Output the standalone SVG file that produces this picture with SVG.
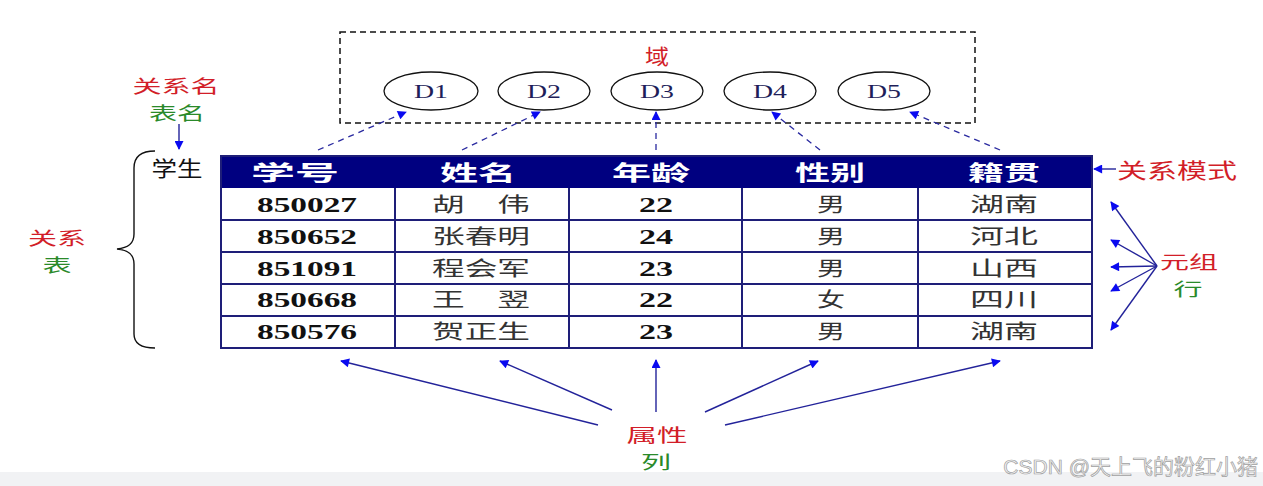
<svg xmlns="http://www.w3.org/2000/svg" width="1263" height="486" viewBox="0 0 1263 486">
<defs>
<marker id="ah" viewBox="0 0 10 10" refX="9" refY="5" markerWidth="11" markerHeight="9" markerUnits="userSpaceOnUse" orient="auto">
<path d="M0,0 L10,5 L0,10 z" fill="#0a0af0"/>
</marker>
<style>
.lbl{font-family:"Noto Sans CJK SC","Noto Sans",sans-serif;font-size:21px;text-anchor:middle}
.stk{font-size:18px}
.red{fill:#d21e28}
.grn{fill:#2a8a2a}
.hd{font-family:"Noto Sans CJK SC",sans-serif;font-size:21px;font-weight:700;fill:#ffffff;text-anchor:middle}
.num{font-family:"Liberation Serif",serif;font-size:22px;font-weight:700;fill:#111;text-anchor:middle}
.cn{font-family:"Noto Sans CJK SC",sans-serif;font-size:20px;fill:#333;text-anchor:middle}
.dl{font-family:"Liberation Serif",serif;font-size:18px;fill:#1e1e5a;text-anchor:middle}
.ell{fill:#fff;stroke:#111;stroke-width:1.3}
.dash{stroke:#2a2aa0;stroke-width:1.3;stroke-dasharray:6 5;fill:none}
.arr{stroke:#23239a;stroke-width:1.4;fill:none}
.grid{stroke:#1e1e78;stroke-width:2;fill:none}
</style>
</defs>
<rect width="1263" height="486" fill="#ffffff"/>
<rect x="0" y="472" width="1263" height="14" fill="#f1f2f4"/>

<g id="domain">
<rect x="340" y="32" width="635" height="91" fill="none" stroke="#111" stroke-width="1.5" stroke-dasharray="6 4"/>
<text class="lbl red" x="657" y="64" textLength="24" lengthAdjust="spacingAndGlyphs">域</text>
</g>
<g id="D1"><ellipse class="ell" cx="431" cy="91" rx="47" ry="19"/><text class="dl" x="431" y="98" textLength="34" lengthAdjust="spacingAndGlyphs">D1</text></g>
<g id="D2"><ellipse class="ell" cx="544" cy="91" rx="46" ry="19"/><text class="dl" x="544" y="98" textLength="34" lengthAdjust="spacingAndGlyphs">D2</text></g>
<g id="D3"><ellipse class="ell" cx="657" cy="91" rx="46" ry="19"/><text class="dl" x="657" y="98" textLength="34" lengthAdjust="spacingAndGlyphs">D3</text></g>
<g id="D4"><ellipse class="ell" cx="770" cy="91" rx="46" ry="19"/><text class="dl" x="770" y="98" textLength="34" lengthAdjust="spacingAndGlyphs">D4</text></g>
<g id="D5"><ellipse class="ell" cx="884" cy="91" rx="46" ry="19"/><text class="dl" x="884" y="98" textLength="34" lengthAdjust="spacingAndGlyphs">D5</text></g>

<g id="relname">
<text class="lbl stk red" x="176" y="93" textLength="87" lengthAdjust="spacingAndGlyphs">关系名</text>
<text class="lbl stk grn" x="177" y="120" textLength="56" lengthAdjust="spacingAndGlyphs">表名</text>
</g>
<g id="tablename">
<text class="lbl" x="177" y="176" fill="#111" font-size="18" textLength="51" lengthAdjust="spacingAndGlyphs">学生</text>
</g>
<g id="relation">
<path d="M155,151 C142,151 134,156 134,168 L134,234 C134,244 128,248 117,249 C128,250 134,254 134,264 L134,334 C134,344 142,348 155,348" fill="none" stroke="#111" stroke-width="1.4"/>
<text class="lbl stk red" x="57" y="245" textLength="58" lengthAdjust="spacingAndGlyphs">关系</text>
<text class="lbl stk grn" x="57" y="272" textLength="29" lengthAdjust="spacingAndGlyphs">表</text>
</g>
<g id="schema">
<text class="lbl red" x="1177" y="178" textLength="120" lengthAdjust="spacingAndGlyphs">关系模式</text>
</g>
<g id="tuple">
<text class="lbl stk red" x="1189" y="269" textLength="58" lengthAdjust="spacingAndGlyphs">元组</text>
<text class="lbl stk grn" x="1188" y="296" textLength="29" lengthAdjust="spacingAndGlyphs">行</text>
</g>
<g id="attribute">
<text class="lbl stk red" x="657" y="442" textLength="61" lengthAdjust="spacingAndGlyphs">属性</text>
<text class="lbl stk grn" x="656" y="469" textLength="30" lengthAdjust="spacingAndGlyphs">列</text>
</g>

<g id="table">
<rect x="221" y="156" width="871" height="32" fill="#000080"/>
<rect class="grid" x="221" y="156" width="871" height="192"/>
<path class="grid" d="M221,220 H1092 M221,252 H1092 M221,284 H1092 M221,316 H1092 M395,188 V348 M569,188 V348 M742,188 V348 M918,188 V348"/>
<text class="hd" x="295" y="180" textLength="88" lengthAdjust="spacingAndGlyphs">学号</text>
<text class="hd" x="478" y="180" textLength="76" lengthAdjust="spacingAndGlyphs">姓名</text>
<text class="hd" x="651" y="180" textLength="78" lengthAdjust="spacingAndGlyphs">年龄</text>
<text class="hd" x="830" y="180" textLength="70" lengthAdjust="spacingAndGlyphs">性别</text>
<text class="hd" x="1004" y="180" textLength="72" lengthAdjust="spacingAndGlyphs">籍贯</text>

<text class="num" x="307" y="212" textLength="100" lengthAdjust="spacingAndGlyphs">850027</text>
<text class="num" x="307" y="244" textLength="100" lengthAdjust="spacingAndGlyphs">850652</text>
<text class="num" x="307" y="276" textLength="100" lengthAdjust="spacingAndGlyphs">851091</text>
<text class="num" x="307" y="307" textLength="100" lengthAdjust="spacingAndGlyphs">850668</text>
<text class="num" x="307" y="339" textLength="100" lengthAdjust="spacingAndGlyphs">850576</text>

<text class="cn" x="481" y="212" textLength="98" lengthAdjust="spacingAndGlyphs">胡　伟</text>
<text class="cn" x="481" y="244" textLength="98" lengthAdjust="spacingAndGlyphs">张春明</text>
<text class="cn" x="481" y="276" textLength="98" lengthAdjust="spacingAndGlyphs">程会军</text>
<text class="cn" x="481" y="307" textLength="98" lengthAdjust="spacingAndGlyphs">王　翌</text>
<text class="cn" x="481" y="339" textLength="98" lengthAdjust="spacingAndGlyphs">贺正生</text>

<text class="num" x="656" y="212" textLength="34" lengthAdjust="spacingAndGlyphs">22</text>
<text class="num" x="656" y="244" textLength="34" lengthAdjust="spacingAndGlyphs">24</text>
<text class="num" x="656" y="276" textLength="34" lengthAdjust="spacingAndGlyphs">23</text>
<text class="num" x="656" y="307" textLength="34" lengthAdjust="spacingAndGlyphs">22</text>
<text class="num" x="656" y="339" textLength="34" lengthAdjust="spacingAndGlyphs">23</text>

<text class="cn" x="831" y="212" textLength="28" lengthAdjust="spacingAndGlyphs">男</text>
<text class="cn" x="831" y="244" textLength="28" lengthAdjust="spacingAndGlyphs">男</text>
<text class="cn" x="831" y="276" textLength="28" lengthAdjust="spacingAndGlyphs">男</text>
<text class="cn" x="831" y="307" textLength="28" lengthAdjust="spacingAndGlyphs">女</text>
<text class="cn" x="831" y="339" textLength="28" lengthAdjust="spacingAndGlyphs">男</text>

<text class="cn" x="1004" y="212" textLength="68" lengthAdjust="spacingAndGlyphs">湖南</text>
<text class="cn" x="1004" y="244" textLength="68" lengthAdjust="spacingAndGlyphs">河北</text>
<text class="cn" x="1004" y="276" textLength="68" lengthAdjust="spacingAndGlyphs">山西</text>
<text class="cn" x="1004" y="307" textLength="68" lengthAdjust="spacingAndGlyphs">四川</text>
<text class="cn" x="1004" y="339" textLength="68" lengthAdjust="spacingAndGlyphs">湖南</text>
</g>

<g id="connectors">
<path class="dash" d="M318,150 L406,112" marker-end="url(#ah)"/>
<path class="dash" d="M462,150 L540,112" marker-end="url(#ah)"/>
<path class="dash" d="M656,150 L656,112" marker-end="url(#ah)"/>
<path class="dash" d="M820,150 L772,112" marker-end="url(#ah)"/>
<path class="dash" d="M1000,150 L910,112" marker-end="url(#ah)"/>
<path class="arr" d="M179,124 L179,149" marker-end="url(#ah)"/>
<path class="arr" d="M1116,169 L1094,169" marker-end="url(#ah)"/>
<path class="arr" d="M1157,266 L1111,202" marker-end="url(#ah)"/>
<path class="arr" d="M1157,266 L1111,240" marker-end="url(#ah)"/>
<path class="arr" d="M1157,266 L1111,267" marker-end="url(#ah)"/>
<path class="arr" d="M1157,266 L1111,291" marker-end="url(#ah)"/>
<path class="arr" d="M1157,266 L1111,330" marker-end="url(#ah)"/>
<path class="arr" d="M598,425 L341,361" marker-end="url(#ah)"/>
<path class="arr" d="M612,410 L500,361" marker-end="url(#ah)"/>
<path class="arr" d="M656,412 L656,360" marker-end="url(#ah)"/>
<path class="arr" d="M705,412 L818,361" marker-end="url(#ah)"/>
<path class="arr" d="M725,425 L1000,361" marker-end="url(#ah)"/>
</g>

<text x="1258" y="474" text-anchor="end" font-family="'Liberation Sans','Noto Sans CJK SC',sans-serif" font-size="21" fill="#f4f4f4" stroke="#a0a0a0" stroke-width="0.7">CSDN @天上飞的粉红小猪</text>
</svg>
